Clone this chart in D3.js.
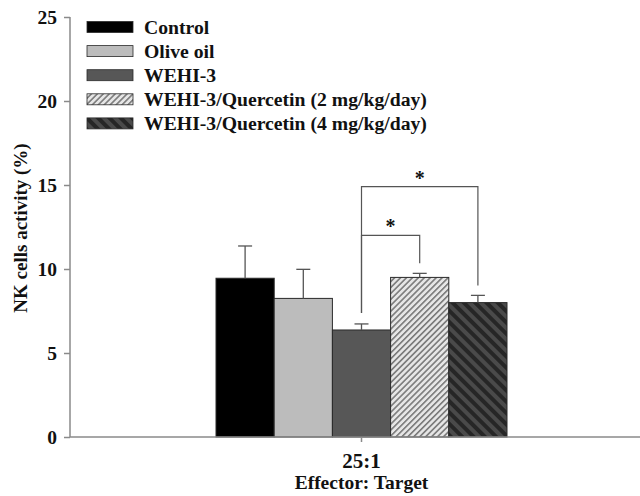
<!DOCTYPE html>
<html><head><meta charset="utf-8">
<script src="https://cdn.jsdelivr.net/npm/d3@7/dist/d3.min.js"></script>
<style>body{margin:0;background:#fff}svg{display:block}text{font-family:"Liberation Serif","DejaVu Serif",serif;font-weight:bold}</style>
</head><body><svg id="c" width="640" height="496"></svg>
<script>
const groups = ["25:1"];
const series = ["Control","Olive oil","WEHI-3","WEHI-3/Quercetin (2 mg/kg/day)","WEHI-3/Quercetin (4 mg/kg/day)"];
const means = [9.45, 8.25, 6.37, 9.5, 8.0];
const errs = [1.92, 1.73, 0.36, 0.24, 0.43];
const yTicks = [0,5,10,15,20,25];
// significance brackets: [fromIndex, toIndex, level]
const brackets = [[2,3,12.0],[2,4,14.9]];

const svg = d3.select("#c");
const defs = svg.append("defs");
const p1 = defs.append("pattern").attr("id","h1").attr("patternUnits","userSpaceOnUse").attr("width",4.2).attr("height",4.2).attr("patternTransform","rotate(45)");
p1.append("rect").attr("width",4.2).attr("height",4.2).attr("fill","#e6e6e6");
p1.append("rect").attr("width",1.6).attr("height",4.2).attr("fill","#7a7a7a");
const p2 = defs.append("pattern").attr("id","h2").attr("patternUnits","userSpaceOnUse").attr("width",8).attr("height",8).attr("patternTransform","rotate(-45)");
p2.append("rect").attr("width",8).attr("height",8).attr("fill","#4a4a4a");
p2.append("rect").attr("width",4).attr("height",8).attr("fill","#262626");
const fills = ["#000000","#bcbcbc","#575757","url(#h1)","url(#h2)"];

const x0 = 70, x1 = 640, yTop = 17, yBot = 437;
const y = d3.scaleLinear().domain([0,25]).range([yBot,yTop]);
const xs = d3.scaleBand().domain(series).range([216,507]);

// axes
const ya = svg.append("g").attr("transform",`translate(${x0},0)`).call(d3.axisLeft(y).tickValues(yTicks).tickSize(6).tickPadding(7));
ya.selectAll("path,line").attr("stroke","#8a8a8a").attr("stroke-width",1.5);
ya.select(".domain").attr("d",`M0,${yBot}V${yTop}`);
ya.selectAll("text").attr("font-size",19.5).attr("font-family","Liberation Serif").attr("font-weight","bold").attr("fill","#111").attr("dy","0.32em");

// bars
const bars = svg.append("g");
series.forEach((s,i)=>{
  bars.append("rect").attr("x",xs(s)).attr("y",y(means[i])).attr("width",xs.bandwidth()).attr("height",y(0)-y(means[i]))
    .attr("fill",fills[i]).attr("stroke","#2a2a2a").attr("stroke-width",1);
  const cx = xs(s)+xs.bandwidth()/2;
  bars.append("line").attr("x1",cx).attr("x2",cx).attr("y1",y(means[i])).attr("y2",y(means[i]+errs[i])).attr("stroke","#555").attr("stroke-width",1.3);
  bars.append("line").attr("x1",cx-7).attr("x2",cx+7).attr("y1",y(means[i]+errs[i])).attr("y2",y(means[i]+errs[i])).attr("stroke","#555").attr("stroke-width",1.3);
});

// x axis
const xa = svg.append("g").attr("transform",`translate(0,${yBot})`);
xa.append("line").attr("x1",x0).attr("x2",x1).attr("stroke","#8a8a8a").attr("stroke-width",1.5);
const gc = xs(series[0]) + (xs(series[4])+xs.bandwidth()-xs(series[0]))/2;
xa.append("line").attr("x1",gc).attr("x2",gc).attr("y1",0).attr("y2",5).attr("stroke","#8a8a8a").attr("stroke-width",1.5);
xa.append("text").attr("x",gc).attr("y",31).attr("text-anchor","middle").attr("font-size",21).attr("fill","#111").text(groups[0]);
svg.append("text").attr("x",gc).attr("y",489).attr("text-anchor","middle").attr("font-size",19.5).attr("fill","#111").text("Effector: Target");

// y title
svg.append("text").attr("transform",`translate(27,228) rotate(-90)`).attr("text-anchor","middle").attr("font-size",19).attr("fill","#111").text("NK cells activity (%)");

// brackets
const bg = svg.append("g");
brackets.forEach(([a,b,lv])=>{
  const xa_ = xs(series[a])+xs.bandwidth()/2, xb_ = xs(series[b])+xs.bandwidth()/2;
  const yl = y(lv);
  const ya_ = y(means[a]+errs[a]) - 11, yb_ = y(means[b]+errs[b]) - 10;
  bg.append("path").attr("d",`M${xa_},${ya_}V${yl}H${xb_}V${yb_}`).attr("fill","none").attr("stroke","#555").attr("stroke-width",1.2);
  bg.append("text").attr("x",(xa_+xb_)/2).attr("y",yl-2).attr("text-anchor","middle").attr("font-size",20).attr("fill","#111").text("*");
});

// legend
const lg = svg.append("g");
series.forEach((s,i)=>{
  const cy = 27 + i*24.1;
  lg.append("rect").attr("x",87).attr("y",cy-5.5).attr("width",46).attr("height",11).attr("fill",fills[i]).attr("stroke","#2a2a2a").attr("stroke-width",0.8);
  lg.append("text").attr("x",144).attr("y",cy+6.5).attr("font-size",19.7).attr("fill","#111").text(s);
});
</script></body></html>
